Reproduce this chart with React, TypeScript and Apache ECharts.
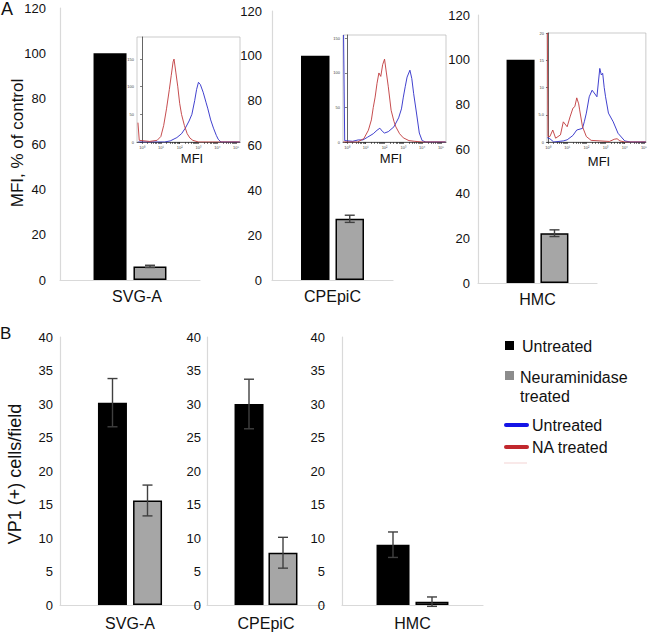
import React, { useEffect, useRef } from 'react';
import * as echarts from 'echarts';

// ---------- data ----------
const cellLines = ['SVG-A', 'CPEpiC', 'HMC'];
const mfiUntreated = [100, 100, 100];
const mfiTreated = [6, 27.3, 22.3];
const mfiTreatedErr = [0.5, 1.6, 1.5];
const vp1Untreated = [30.2, 30.0, 9.0];
const vp1UntreatedErr = [3.6, 3.7, 1.9];
const vp1Treated = [15.6, 7.8, 0.5];
const vp1TreatedErr = [2.3, 2.3, 0.7];

const mfiTicks = [0, 20, 40, 60, 80, 100, 120];
const vp1Ticks = [0, 5, 10, 15, 20, 25, 30, 35, 40];
const histDecades = [0, 1, 2, 3, 4, 5];

// flow-cytometry histograms: [log10(MFI), count]
const histSvgaUntreated = [[-0.2, 0], [1.2, 0], [1.5, 2], [1.85, 8], [2.1, 15], [2.3, 25], [2.5, 38], [2.65, 50], [2.8, 75], [2.9, 95], [3.0, 108], [3.1, 104], [3.25, 90], [3.4, 72], [3.5, 60], [3.65, 40], [3.8, 25], [3.95, 12], [4.05, 5], [4.2, 0], [5.2, 0]];
const histSvgaTreated = [[-0.22, 35], [-0.15, 3], [0.4, 1], [0.8, 3], [1.0, 10], [1.15, 30], [1.3, 60], [1.45, 95], [1.55, 120], [1.65, 145], [1.7, 150], [1.8, 125], [1.9, 100], [2.0, 70], [2.1, 50], [2.25, 30], [2.4, 15], [2.55, 7], [2.7, 3], [3.0, 0], [5.2, 0]];
const histCpepicUntreated = [[-0.18, 155], [-0.12, 2], [0.3, 1], [0.6, 3], [0.85, 3], [1.1, 7], [1.4, 12], [1.6, 17], [1.75, 20], [1.9, 15], [2.0, 13], [2.2, 15], [2.5, 22], [2.75, 35], [2.9, 48], [3.0, 65], [3.1, 80], [3.2, 94], [3.35, 104], [3.45, 92], [3.55, 70], [3.7, 42], [3.85, 13], [4.0, 2], [4.2, 0], [5.25, 0]];
const histCpepicTreated = [[-0.2, 0], [0.57, 0], [0.9, 5], [1.14, 17], [1.3, 32], [1.4, 50], [1.5, 65], [1.6, 85], [1.7, 100], [1.8, 95], [1.9, 112], [2.0, 120], [2.1, 100], [2.2, 80], [2.35, 46], [2.5, 30], [2.6, 22], [2.8, 12], [3.0, 6], [3.3, 2], [3.6, 1], [4.0, 0], [5.25, 0]];
const histHmcUntreated = [[-0.04, 0.8], [0.1, 0.6], [0.3, 0], [0.8, 0.2], [1.0, 0.4], [1.3, 1.2], [1.5, 2.2], [1.8, 2.5], [1.9, 3.8], [2.0, 5.3], [2.15, 8.3], [2.3, 9.5], [2.45, 8.8], [2.55, 8.3], [2.7, 13.5], [2.78, 12.3], [2.85, 12.6], [2.93, 10], [3.0, 8.3], [3.15, 5.3], [3.4, 3.7], [3.65, 1.6], [4.0, 0.2], [4.3, 0], [5.1, 0]];
const histHmcTreated = [[-0.03, 20], [0.0, 1], [0.1, 1], [0.25, 2.2], [0.4, 0.7], [0.65, 1.3], [0.8, 3.7], [1.0, 2.8], [1.15, 4.6], [1.3, 6.2], [1.4, 6.5], [1.5, 8.1], [1.6, 7], [1.65, 5.9], [1.8, 2.8], [2.0, 1], [2.25, 0.3], [3.2, 0.1], [3.45, 0.5], [3.6, 0.6], [3.75, 0.2], [4.0, 0], [5.1, 0]];

const insetYLabels = [[0, 50, 100, 150], [0, 50, 100, 150], [0, 5, 10, 15, 20]];
const insetYMax = [190, 155, 20];
const insetXRange = [[-0.27, 5.21], [-0.21, 5.27], [-0.05, 5.1]];

// ---------- layout ----------
const FONT = "'Liberation Sans', Arial, sans-serif";
const aGrids = [
  { left: 60, top: 8, width: 140, height: 272 },
  { left: 272, top: 11, width: 121, height: 269 },
  { left: 478, top: 15, width: 119, height: 268 },
];
const bGrids = [
  { left: 60, top: 337, width: 140, height: 268 },
  { left: 207, top: 337, width: 118, height: 268 },
  { left: 342, top: 337, width: 141, height: 268 },
];
const insetGrids = [
  { left: 137, top: 37, width: 103, height: 105 },
  { left: 343, top: 35, width: 103, height: 107 },
  { left: 547, top: 33, width: 102, height: 109 },
];
const aBarW = [33, 28.5, 28];
const aGap = [7, 6, 6];
const bBarW = [29, 29, 33];
const bGap = [6, 5, 6];
const aLabelMargin = [14, 10, 8];
const bLabelMargin = [7, 6, 17];

const sup = ['\u2070', '\u00b9', '\u00b2', '\u00b3', '\u2074', '\u2075'];

export default function App() {
  const ref = useRef<HTMLDivElement>(null);
  useEffect(() => {
    if (!ref.current) return;
    const chart = echarts.init(ref.current, null, { renderer: 'svg' });

    const grid: any[] = [];
    const xAxis: any[] = [];
    const yAxis: any[] = [];
    const series: any[] = [];

    const errSeries = (axisIdx: number, items: any[]) => ({
      type: 'custom',
      xAxisIndex: axisIdx,
      yAxisIndex: axisIdx,
      z: 5,
      data: items,
      renderItem: (params: any, api: any) => {
        const x = api.value(0);
        const lo = api.coord([x, api.value(1)]);
        const hi = api.coord([x, api.value(2)]);
        const cx = lo[0] + api.value(3);
        const style = { stroke: '#404040', lineWidth: 1.4 };
        return {
          type: 'group',
          children: [
            { type: 'line', shape: { x1: cx, y1: lo[1], x2: cx, y2: hi[1] }, style },
            { type: 'line', shape: { x1: cx - 5, y1: lo[1], x2: cx + 5, y2: lo[1] }, style },
            { type: 'line', shape: { x1: cx - 5, y1: hi[1], x2: cx + 5, y2: hi[1] }, style },
          ],
        };
      },
    });

    const addBarPanel = (
      g: any, name: string, maxV: number, interval: number, margin: number, labelMargin: number,
      untreated: number, treated: number, errU: number | null, errT: number,
      barW: number, gapPx: number, labelPad: number[]
    ) => {
      const idx = grid.length;
      grid.push({ ...g });
      xAxis.push({
        type: 'category', gridIndex: idx, data: [name],
        axisLine: { lineStyle: { color: '#d9d9d9', width: 1.2 } },
        axisTick: { show: false },
        axisLabel: { color: '#111', fontSize: 16, fontFamily: FONT, margin: labelMargin, padding: labelPad },
      });
      yAxis.push({
        type: 'value', gridIndex: idx, min: 0, max: maxV, interval,
        axisLine: { show: true, lineStyle: { color: '#d9d9d9', width: 1.2 } },
        axisTick: { show: false },
        splitLine: { show: false },
        axisLabel: { color: '#111', fontSize: 13, fontFamily: FONT, margin },
      });
      const gapPct = Math.round((gapPx / barW) * 100) + '%';
      series.push({
        type: 'bar', name: 'Untreated', xAxisIndex: idx, yAxisIndex: idx,
        data: [untreated], barWidth: barW, barGap: gapPct,
        itemStyle: { color: '#000' },
      });
      series.push({
        type: 'bar', name: 'Neuraminidase treated', xAxisIndex: idx, yAxisIndex: idx,
        data: [treated], barWidth: barW, barGap: gapPct,
        itemStyle: { color: '#a6a6a6', borderColor: '#000', borderWidth: 1.5 },
      });
      const off = (barW + gapPx) / 2;
      const items: any[] = [];
      if (errU !== null) items.push([0, untreated - errU, untreated + errU, -off]);
      items.push([0, treated - errT, treated + errT, off]);
      series.push(errSeries(idx, items));
    };

    for (let i = 0; i < 3; i++) {
      addBarPanel(aGrids[i], cellLines[i], 120, 20, aLabelMargin[i], 8,
        mfiUntreated[i], mfiTreated[i], null, mfiTreatedErr[i], aBarW[i], aGap[i],
        i === 0 ? [0, 0, 0, 14] : [0, 0, 0, 0]);
    }
    for (let i = 0; i < 3; i++) {
      addBarPanel(bGrids[i], cellLines[i], 40, 5, bLabelMargin[i], 10,
        vp1Untreated[i], vp1Treated[i], vp1UntreatedErr[i], vp1TreatedErr[i], bBarW[i], bGap[i],
        [0, 0, 0, 0]);
    }

    const hists = [
      [histSvgaUntreated, histSvgaTreated],
      [histCpepicUntreated, histCpepicTreated],
      [histHmcUntreated, histHmcTreated],
    ];
    const minorTicks: number[] = [];
    for (const d of [0, 1, 2, 3, 4]) {
      for (let k = 1; k < 10; k++) minorTicks.push(d + Math.log10(k));
    }
    minorTicks.push(5);

    for (let i = 0; i < 3; i++) {
      const idx = grid.length;
      grid.push({ ...insetGrids[i], show: true, backgroundColor: '#fff', borderColor: '#b5b5b5', borderWidth: 0.7, z: 3 });
      xAxis.push({
        type: 'value', gridIndex: idx, min: insetXRange[i][0], max: insetXRange[i][1],
        axisLine: { show: true, lineStyle: { color: '#222', width: 0.7 } },
        axisTick: { show: true, customValues: minorTicks, length: 2, lineStyle: { color: '#222', width: 0.6 } },
        splitLine: { show: false },
        axisLabel: {
          customValues: histDecades, fontSize: 4, color: '#444', margin: 3, fontFamily: FONT,
          formatter: (v: number) => '10' + sup[Math.round(v)],
        },
        z: 4,
      });
      yAxis.push({
        type: 'value', gridIndex: idx, min: 0, max: insetYMax[i],
        axisLine: { show: true, lineStyle: { color: '#222', width: 0.7 } },
        axisTick: { show: true, customValues: insetYLabels[i], length: 2, lineStyle: { color: '#222', width: 0.6 } },
        splitLine: { show: false },
        axisLabel: {
          customValues: insetYLabels[i], fontSize: 4, color: '#444', margin: 3, fontFamily: FONT,
          formatter: (v: number) => (i === 2 && v === 5 ? '5.0' : String(v)),
        },
        z: 4,
      });
      series.push({
        type: 'line', name: 'Untreated (flow)', xAxisIndex: idx, yAxisIndex: idx,
        data: hists[i][0], showSymbol: false, z: 6, clip: true,
        lineStyle: { color: '#2b2bc8', width: 0.9 },
      });
      series.push({
        type: 'line', name: 'NA treated (flow)', xAxisIndex: idx, yAxisIndex: idx,
        data: hists[i][1], showSymbol: false, z: 6, clip: true,
        lineStyle: { color: '#c0393b', width: 0.9 },
      });
    }

    const txt = (x: number, y: number, text: string, fontSize: number, extra: any = {}) => ({
      type: 'text', x, y, z: 20,
      style: { text, fontSize, fontFamily: FONT, fill: '#111', textAlign: 'left', textVerticalAlign: 'middle', ...extra },
    });

    const graphic: any[] = [
      txt(1, 9, 'A', 18),
      txt(0, 333, 'B', 17),
      { type: 'text', x: 17, y: 143, rotation: Math.PI / 2, z: 20,
        style: { text: 'MFI, % of control', fontSize: 17, fontFamily: FONT, fill: '#111', textAlign: 'center', textVerticalAlign: 'middle' } },
      { type: 'text', x: 15, y: 474, rotation: Math.PI / 2, z: 20,
        style: { text: 'VP1 (+) cells/field', fontSize: 18, fontFamily: FONT, fill: '#111', textAlign: 'center', textVerticalAlign: 'middle' } },
      txt(192, 158, 'MFI', 13, { textAlign: 'center' }),
      txt(391, 158, 'MFI', 13, { textAlign: 'center' }),
      txt(599, 161, 'MFI', 13, { textAlign: 'center' }),
      // legend
      { type: 'rect', shape: { x: 505, y: 341, width: 9, height: 9 }, style: { fill: '#000' }, z: 20 },
      txt(522, 346, 'Untreated', 16),
      { type: 'rect', shape: { x: 505, y: 371, width: 9, height: 9 }, style: { fill: '#8c8c8c' }, z: 20 },
      txt(520, 377, 'Neuraminidase', 16),
      txt(520, 396, 'treated', 16),
      { type: 'line', shape: { x1: 506, y1: 425, x2: 527, y2: 425 }, style: { stroke: '#1414e6', lineWidth: 4, lineCap: 'round' }, z: 20 },
      txt(532, 425, 'Untreated', 16),
      { type: 'line', shape: { x1: 506, y1: 447, x2: 527, y2: 447 }, style: { stroke: '#c1272d', lineWidth: 4, lineCap: 'round' }, z: 20 },
      txt(532, 447, 'NA treated', 16),
      { type: 'line', shape: { x1: 504, y1: 463, x2: 527, y2: 463 }, style: { stroke: '#f3d3d3', lineWidth: 1 }, z: 20 },
    ];

    chart.setOption({
      animation: false,
      backgroundColor: '#fff',
      grid, xAxis, yAxis, series, graphic,
    });
    return () => chart.dispose();
  }, []);

  return <div ref={ref} style={{ position: 'fixed', left: 0, top: 0, width: 650, height: 632 }} />;
}
